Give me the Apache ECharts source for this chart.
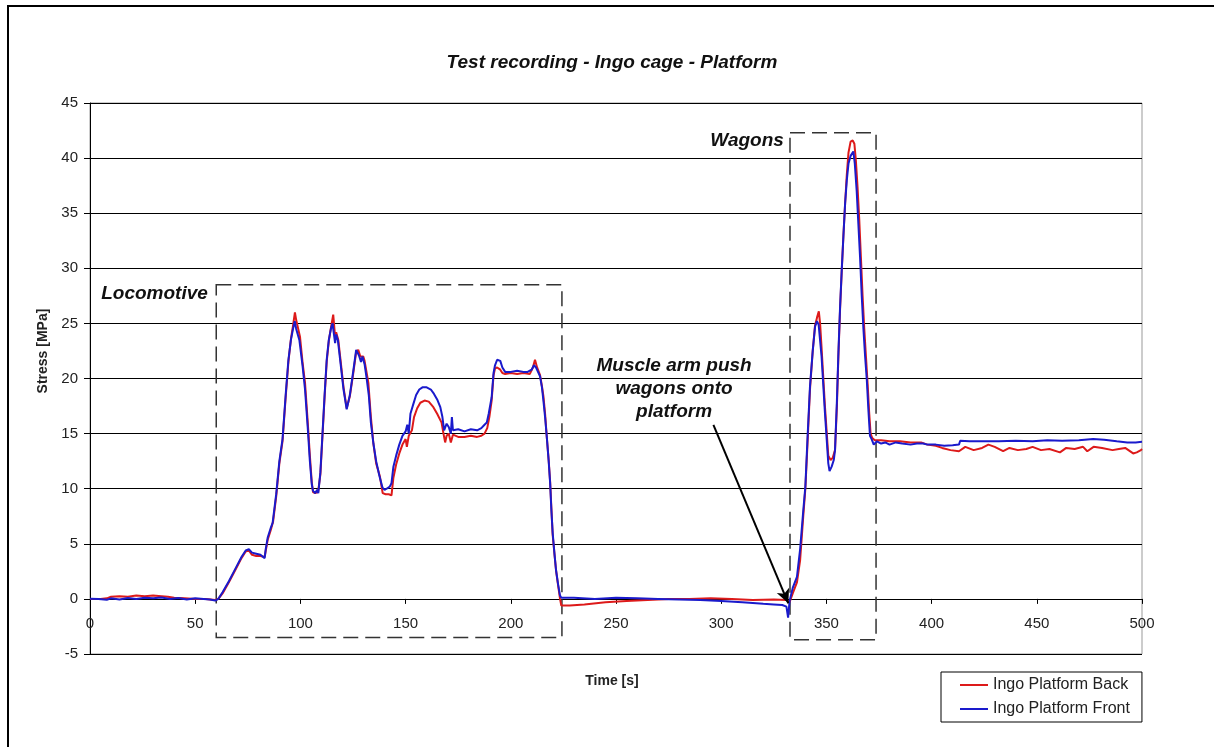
<!DOCTYPE html>
<html>
<head>
<meta charset="utf-8">
<script src="https://cdn.jsdelivr.net/npm/echarts/dist/echarts.min.js"></script>
<style>
html,body{margin:0;padding:0;background:#fff;}
#chart{width:1214px;height:747px;}
</style>
</head>
<body>
<div id="chart"></div>
<script>
// ---- Data ----
const chartTitle = 'Test recording - Ingo cage - Platform';
const xAxisName = 'Time [s]';
const yAxisName = 'Stress [MPa]';
const seriesNames = ['Ingo Platform Back', 'Ingo Platform Front'];

const backT = [0,5,8,10,14,18,22,26,30,34,37,40,45,50,55,59.5,61,63,66,69,72,74,75.5,77,79,81,83,84.5,86,87,88.5,90,91.5,93,94.3,95.5,96.5,97.4,98,99.8,101,102.2,103.5,104.5,105.4,106,107,108.4,109.5,110.5,111.5,112.5,113.5,114.5,115.6,116.4,117,118,119,120.5,122,123.5,125,126.5,127.5,128.5,129.9,130.5,131.5,132.3,133.5,134.7,136,137.8,139.1,140.5,142,143.3,144.2,145.5,147,148.5,150,150.6,151.5,153,154,155.5,157,159,161,163.2,165,167.1,168,168.8,169.5,170.5,171.5,172.5,175,178,181,184,186,187.5,188.8,189.8,190.9,191.8,192.5,193.5,195,196,197.3,200,203,206,209,210.5,211.5,212.5,213.9,214.8,215.5,216.3,217.1,218,218.7,219.3,219.9,220.8,221.5,222.5,223.4,224,228,235,245,255,265,275,285,295,305,315,325,331,332.5,334,336,337.5,339,340,341,342.2,343.5,344.6,345.5,346.4,347,347.7,349.3,350.9,352,353,354.1,355,355.7,356.5,357.3,358.1,358.9,359.7,360.5,361.5,362.5,363.3,364,364.8,365.6,366.4,367.2,368,368.8,369.6,370.3,371,371.8,373,376,380,385,390,395,398,402,405,409,413,416,420,424,427,430,434,437,441,445,448,452,456,461,464,468,472,474,477,481,486,489,492,495.8,497.5,499.5,500];
const backV = [0,0,0.05,0.2,0.25,0.2,0.3,0.25,0.3,0.25,0.2,0.1,0.05,0,0,-0.1,0,0.5,1.5,2.6,3.7,4.3,4.4,4,3.9,3.9,3.8,5.4,6.3,7,9.3,12.3,14.3,18.3,21.5,23.6,24.8,26,25.3,23.8,21.5,19.6,16,13,10.6,9.7,9.6,9.7,11.3,14.8,18.3,21.5,23.4,24.6,25.8,24,24.2,23.5,21.8,19.2,17.3,18.4,20.3,22.4,22.6,22,22,21.6,20.5,19.6,16.5,14.1,12.3,11.1,9.6,9.5,9.5,9.4,11,12.2,13.2,14,14.5,13.8,14.8,15.3,16.5,17.3,17.8,18,17.9,17.4,16.8,16,15,14.2,14.8,15,14.2,14.9,14.7,14.7,14.8,14.7,14.8,15,15.5,16.5,18,20.3,20.9,21,20.8,20.5,20.4,20.5,20.4,20.5,20.4,21,21.7,21,20.3,19.3,18.4,16.8,14.7,12.6,10.6,8.2,5.8,4,2.6,1.2,0,-0.6,-0.6,-0.5,-0.3,-0.2,-0.1,0,0,0.05,0,-0.1,-0.05,-0.1,-0.3,0.5,1.5,3.5,7.5,10,14,19,22.5,24.8,25.5,26.1,25,22.8,17.5,13,12.6,12.8,13.5,17.5,22,26.3,29.8,33,35.9,38.5,40.5,41.5,41.6,41.3,39.8,37.4,34.5,31,27.5,24.5,22,19.5,17,15,14.6,14.4,14.4,14.3,14.3,14.2,14.2,14,13.9,13.7,13.5,13.4,13.8,13.5,13.7,14,13.8,13.4,13.7,13.5,13.6,13.8,13.5,13.6,13.3,13.7,13.6,13.8,13.4,13.8,13.7,13.5,13.6,13.7,13.2,13.3,13.5,13.6];

const frontT = [0,4,8,10,14,18,22,26,30,34,38,42,46,50,54,57,59.5,61,63,66,69,72,74,75.5,77,79,81,83,83.5,84.5,86,86.8,88.5,90,91.5,93,94.3,95.5,96.5,97.3,98,99.5,101,102.2,103.5,104.5,105.4,106,107,108,108.5,109.5,110.5,111.5,112.5,113.5,114.5,115.3,115.8,116.5,117,117.8,119,120.5,122,123.5,125,126.5,127.3,128,128.8,129.5,130.5,131.5,132.5,133.5,134.7,136,137.5,139,140,141,142.5,143.3,144.2,145.5,147,148.5,150,150.8,151.5,152.3,153.7,155,156.5,158,160,162,163.5,165,166.5,167.5,168.3,169.5,170.5,171.5,172,172.5,175,178,181,184,186,187.5,188.6,189.5,190.9,191.8,192.5,193.5,195,196,197.3,200,203,206,208,209.9,211,212,213.9,214.8,215.5,216.3,217.1,218,218.7,219.3,219.9,220.8,221.5,222.5,223.4,224,230,240,250,260,270,280,290,300,310,320,325,329,331,331.8,332.5,334,336,337.5,339,340,341,342.2,343.5,344.6,345.5,346.3,347.7,349.3,350.9,351.5,352.5,353.5,354.1,355,355.7,356.5,357.3,358.1,358.9,359.7,360.5,361.5,362.8,363.5,364.4,365.2,366,366.8,367.6,368.4,369.2,370,370.7,371.5,372.5,374,376,378,380,383,386,390,393,396,398,402,406,410,413,413.6,418,425,432,440,448,455,462,470,476.8,482,488,493,497,500];
const frontV = [0.02,0,-0.08,0.05,-0.05,0.08,0,0.1,0.05,0.12,0,0.08,-0.05,0.05,0,-0.05,-0.15,0,0.6,1.6,2.7,3.8,4.4,4.5,4.2,4.1,4,3.7,4.5,5.6,6.5,6.9,9.5,12.5,14.5,18.5,21.7,23.5,24.5,25.2,24.5,23.5,21.2,19,15.5,12.5,10.4,9.8,9.6,9.9,9.6,11.5,15,18.5,21.7,23.5,24.5,25,24.2,23.2,24,23.5,21.5,19,17.2,18.5,20.5,22.6,22.3,22,21.5,22,21.3,20,18.5,16,14.1,12.5,11.2,10.1,9.9,10,10.2,10.5,12,13,14,14.8,15.2,15.8,15,16.8,17.7,18.5,19,19.2,19.2,19,18.6,18.1,17.4,16.5,15.3,15.9,15.6,15,16.5,15.3,15.4,15.2,15.4,15.3,15.5,15.8,16,16.8,18.3,20.5,21.2,21.7,21.6,21,20.6,20.6,20.7,20.6,20.6,20.8,21.2,21,20.2,19.2,18,16.5,14.7,12.5,10.5,8,6,4,2.6,1.3,0.3,0.1,0.1,0,0.1,0.05,0,-0.05,-0.1,-0.2,-0.3,-0.45,-0.5,-0.55,-0.7,-1.7,-0.2,1,2,4.5,8,10.2,14.5,19.3,22.5,24.7,25.2,24.9,22,16.9,12.3,11.6,12,12.6,13.5,18,22.3,26.5,29.9,33,35.9,38,39.5,40.2,40.6,39.5,37,34,31,27.5,24.5,22,19.9,17,14.8,14.5,14,14.3,14.1,14.2,14,14.2,14.1,14,14.1,14.1,14,14,13.9,13.95,14,14.35,14.3,14.3,14.3,14.35,14.3,14.4,14.35,14.4,14.5,14.45,14.3,14.2,14.2,14.25];

const xTicks = {min: 0, max: 500, interval: 50};
const yTicks = {min: -5, max: 45, interval: 5};

// annotation boxes [x0, y0, x1, y1] and labels in data units
const boxLocomotive = [60, 28.5, 224.3, -3.5];
const boxWagons = [332.7, 42.3, 373.6, -3.7];
const labelLocomotive = {text: 'Locomotive', x: 56, y: 27.7};
const labelWagons = {text: 'Wagons', x: 329.8, y: 41.6};
const labelMuscle = {text: 'Muscle arm push\nwagons onto\nplatform', x: 277.6, y: 19.1};
const arrowFrom = [296.3, 15.8];
const arrowTo = [331.9, -0.4];

// ---- Chart ----
const FONT = "'Liberation Sans', Arial, sans-serif";
const zip = (t, v) => t.map((x, i) => [x, v[i]]);
const chart = echarts.init(document.getElementById('chart'));
const GRID = {left: 90, right: 72, top: 103, bottom: 93};

chart.setOption({
  animation: false,
  backgroundColor: '#fff',
  textStyle: {fontFamily: FONT},
  title: {
    text: chartTitle, left: 612, top: 53, textAlign: 'center', padding: 0,
    textStyle: {fontFamily: FONT, fontSize: 19, fontWeight: 'bold', fontStyle: 'italic', color: '#111'}
  },
  grid: Object.assign({show: true, borderColor: '#999', borderWidth: 1, backgroundColor: 'transparent'}, GRID),
  legend: {
    orient: 'vertical', left: 941, top: 672,
    padding: [5, 12, 5, 19], itemGap: 8, itemWidth: 28, itemHeight: 2,
    icon: 'rect',
    borderColor: '#000', borderWidth: 1, backgroundColor: '#fff',
    textStyle: {fontFamily: FONT, fontSize: 16, color: '#222', lineHeight: 16},
    data: seriesNames
  },
  xAxis: {
    type: 'value', min: xTicks.min, max: xTicks.max, interval: xTicks.interval,
    position: 'bottom',
    axisLine: {show: true, onZero: false, lineStyle: {color: '#000', width: 1}},
    axisTick: {show: true, length: 5, lineStyle: {color: '#000'}},
    axisLabel: {fontFamily: FONT, fontSize: 15, color: '#222', margin: 17},
    splitLine: {show: false}
  },
  yAxis: {
    type: 'value', min: yTicks.min, max: yTicks.max, interval: yTicks.interval,
    axisLine: {show: true, lineStyle: {color: '#000', width: 1}},
    axisTick: {show: true, length: 6, lineStyle: {color: '#000'}},
    axisLabel: {fontFamily: FONT, fontSize: 15, color: '#222', margin: 12},
    splitLine: {show: true, lineStyle: {color: '#000', width: 1}}
  },
  series: [
    {
      name: seriesNames[0], type: 'line', symbol: 'none', showSymbol: false,
      data: zip(backT, backV), z: 3,
      lineStyle: {color: '#dd1a1a', width: 2}, itemStyle: {color: '#dd1a1a'},
      markArea: {
        silent: true,
        itemStyle: {color: 'rgba(0,0,0,0)', borderColor: '#333', borderWidth: 1.5, borderType: [15, 7]},
        data: [
          [{coord: [boxLocomotive[0], boxLocomotive[1]]}, {coord: [boxLocomotive[2], boxLocomotive[3]]}],
          [{coord: [boxWagons[0], boxWagons[1]]}, {coord: [boxWagons[2], boxWagons[3]]}]
        ]
      }
    },
    {
      name: seriesNames[1], type: 'line', symbol: 'none', showSymbol: false,
      data: zip(frontT, frontV), z: 4,
      lineStyle: {color: '#1a1acc', width: 2}, itemStyle: {color: '#1a1acc'},
      markLine: {
        silent: true, animation: false,
        symbol: ['none', 'arrow'], symbolSize: [10, 14],
        label: {show: false},
        lineStyle: {color: '#000', width: 2, type: 'solid'},
        data: [[{coord: arrowFrom}, {coord: arrowTo}]]
      }
    }
  ]
});

function px(pt) { return chart.convertToPixel({gridIndex: 0}, pt); }
// move the x axis (line, ticks and labels) up to the y = 0 line
const zeroY = px([0, 0])[1];
const gridBottomY = px([0, yTicks.min])[1];
chart.setOption({xAxis: {offset: -(gridBottomY - zeroY)}});

const pL = px([labelLocomotive.x, labelLocomotive.y]);
const pW = px([labelWagons.x, labelWagons.y]);
const pM = px([labelMuscle.x, labelMuscle.y]);
const annFont = {fontFamily: FONT, fontSize: 19, fontWeight: 'bold', fontStyle: 'italic', fill: '#111'};

chart.setOption({
  graphic: [
    {type: 'rect', shape: {x: 8, y: 6, width: 1400, height: 1000}, style: {fill: 'none', stroke: '#000', lineWidth: 2}, silent: true, z: 100},
    {type: 'text', x: pL[0], y: pL[1], style: Object.assign({text: labelLocomotive.text, align: 'right', verticalAlign: 'middle'}, annFont), z: 100},
    {type: 'text', x: pW[0], y: pW[1], style: Object.assign({text: labelWagons.text, align: 'right', verticalAlign: 'middle'}, annFont), z: 100},
    {type: 'text', x: pM[0], y: pM[1], style: Object.assign({text: labelMuscle.text, align: 'center', verticalAlign: 'middle', lineHeight: 23}, annFont), z: 100},
    {type: 'text', x: 43, y: 351, rotation: Math.PI / 2, style: {text: yAxisName, align: 'center', verticalAlign: 'middle', fontFamily: FONT, fontSize: 14, fontWeight: 'bold', fill: '#222'}, z: 100},
    {type: 'text', x: 612, y: 681, style: {text: xAxisName, align: 'center', verticalAlign: 'middle', fontFamily: FONT, fontSize: 14, fontWeight: 'bold', fill: '#222'}, z: 100}
  ]
});
</script>
</body>
</html>
